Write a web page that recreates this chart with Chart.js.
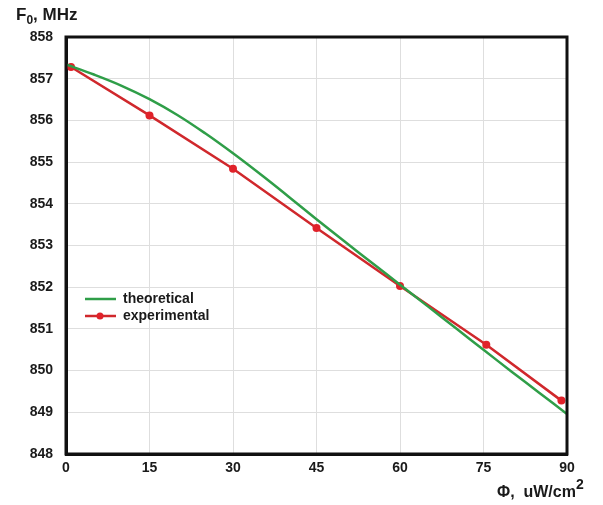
<!DOCTYPE html>
<html>
<head>
<meta charset="utf-8">
<script src="https://cdn.jsdelivr.net/npm/chart.js@4/dist/chart.umd.min.js"></script>
<style>
  body { margin: 0; background: #fff; }
  #wrap { position: relative; width: 603px; height: 505px; }
  .ttl { position: absolute; font-family: "Liberation Sans", Arial, sans-serif; font-weight: bold; color: #1a1a1a; white-space: pre; }
  #yTitle { left: 16px; top: 5px; font-size: 17px; }
  #yTitle sub { font-size: 12px; }
  #xTitle { left: 497px; top: 478px; font-size: 16px; }
  #xTitle sup { font-size: 14px; position: relative; top: -2px; }
</style>
</head>
<body>
<div id="wrap">
  <canvas id="chart" width="603" height="505"></canvas>
  <div class="ttl" id="yTitle">F<sub>0</sub>, MHz</div>
  <div class="ttl" id="xTitle">Φ,  uW/cm<sup>2</sup></div>
</div>
<script>
// experimental points
const phiExp = [0.9, 15, 30, 45, 60, 75.5, 89];
const fExp = [857.28, 856.12, 854.84, 853.42, 852.03, 850.62, 849.28];

// theoretical curve
const phiTheo = [0, 5, 10, 15, 20, 25, 30, 35, 40, 45, 50, 55, 60, 65, 70, 75, 80, 85, 90];
const fTheo = [857.34, 857.10, 856.83, 856.51, 856.13, 855.69, 855.21, 854.70, 854.17, 853.63,
               853.10, 852.58, 852.06, 851.54, 851.02, 850.50, 849.98, 849.47, 848.96];

const xTicks = [0, 15, 30, 45, 60, 75, 90];
const yMin = 848, yMax = 858;

const legendItems = [
  { text: "theoretical", color: "#2f9e48", dot: false },
  { text: "experimental", color: "#d0282c", dot: true }
];

const insideLegend = {
  id: "insideLegend",
  afterDraw(chart) {
    const ctx = chart.ctx;
    ctx.save();
    ctx.font = "bold 14px 'Liberation Sans', Arial, sans-serif";
    ctx.textBaseline = "middle";
    legendItems.forEach((it, i) => {
      const y = 299 + i * 17;
      ctx.strokeStyle = it.color;
      ctx.lineWidth = 2.5;
      ctx.beginPath();
      ctx.moveTo(85, y);
      ctx.lineTo(116, y);
      ctx.stroke();
      if (it.dot) {
        ctx.fillStyle = "#e0222a";
        ctx.beginPath();
        ctx.arc(100, y, 3.5, 0, Math.PI * 2);
        ctx.fill();
      }
      ctx.fillStyle = "#1a1a1a";
      ctx.fillText(it.text, 123, y);
    });
    ctx.restore();
  }
};

const ctx = document.getElementById("chart").getContext("2d");
new Chart(ctx, {
  type: "line",
  data: {
    datasets: [
      {
        label: "theoretical",
        data: phiTheo.map((x, i) => ({ x: x, y: fTheo[i] })),
        borderColor: "#2f9e48",
        borderWidth: 2.5,
        pointRadius: 0,
        tension: 0.4,
        fill: false
      },
      {
        label: "experimental",
        data: phiExp.map((x, i) => ({ x: x, y: fExp[i] })),
        borderColor: "#d0282c",
        backgroundColor: "#e0222a",
        borderWidth: 2.5,
        pointRadius: 4,
        pointBorderWidth: 0,
        tension: 0,
        fill: false
      }
    ]
  },
  options: {
    responsive: false,
    animation: false,
    layout: { padding: { left: 0, top: 37, right: 36, bottom: 0 } },
    plugins: { legend: { display: false }, tooltip: { enabled: false } },
    scales: {
      x: {
        type: "linear",
        min: 0,
        max: 90,
        afterFit: s => { s.height = 51; },
        afterBuildTicks: s => { s.ticks = xTicks.map(v => ({ value: v })); },
        grid: { color: "#dedede", lineWidth: 1, drawTicks: false },
        border: { color: "#111", width: 3 },
        ticks: {
          padding: 6,
          color: "#1a1a1a",
          font: { family: "'Liberation Sans', Arial, sans-serif", size: 14, weight: "bold" }
        }
      },
      y: {
        min: yMin,
        max: yMax,
        afterFit: s => { s.width = 66; },
        grid: { color: "#dedede", lineWidth: 1, drawTicks: false },
        border: { color: "#111", width: 3 },
        ticks: {
          stepSize: 1,
          padding: 13,
          color: "#1a1a1a",
          font: { family: "'Liberation Sans', Arial, sans-serif", size: 14, weight: "bold" }
        }
      }
    }
  },
  plugins: [insideLegend, {
    id: "frame",
    afterDraw(chart) {
      const a = chart.chartArea, c = chart.ctx;
      c.save();
      c.strokeStyle = "#111";
      c.lineWidth = 3;
      c.strokeRect(a.left, a.top, a.right - a.left, a.bottom - a.top);
      c.restore();
    }
  }]
});
</script>
</body>
</html>
